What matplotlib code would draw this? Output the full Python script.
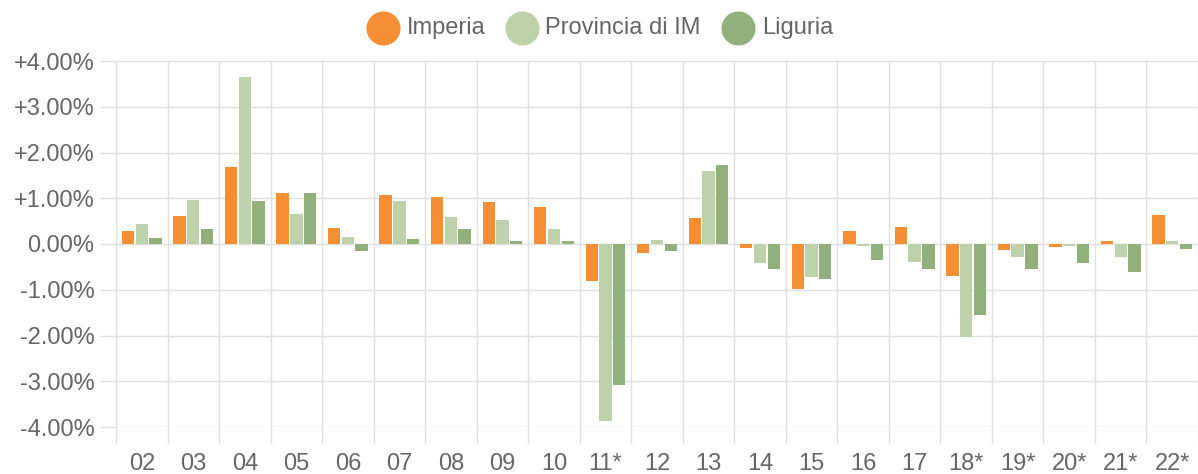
import matplotlib
matplotlib.use('Agg')
import matplotlib.pyplot as plt
import numpy as np
from matplotlib.lines import Line2D

plt.rcParams['font.family'] = ['Liberation Sans', 'DejaVu Sans']

# dati (variazione % annua)
anni = ['02', '03', '04', '05', '06', '07', '08', '09', '10', '11*', '12',
        '13', '14', '15', '16', '17', '18*', '19*', '20*', '21*', '22*']
imperia = [0.28, 0.61, 1.69, 1.12, 0.36, 1.07, 1.03, 0.92, 0.81, -0.80, -0.19,
           0.57, -0.09, -0.99, 0.28, 0.37, -0.71, -0.14, -0.07, 0.06, 0.63]
provincia = [0.43, 0.96, 3.65, 0.66, 0.15, 0.93, 0.59, 0.53, 0.32, -3.87, 0.09,
             1.59, -0.41, -0.73, -0.04, -0.39, -2.03, -0.28, -0.05, -0.28, 0.06]
liguria = [0.14, 0.32, 0.93, 1.11, -0.15, 0.11, 0.32, 0.06, 0.06, -3.08, -0.15,
           1.72, -0.55, -0.77, -0.36, -0.54, -1.55, -0.54, -0.42, -0.62, -0.10]
serie = ['Imperia', 'Provincia di IM', 'Liguria']
colori = ['#f68e34', '#bdd2aa', '#92b07c']

W, H = 1198, 474
fig = plt.figure(figsize=(W / 100, H / 100), dpi=100)
ax = fig.add_axes([116 / W, (H - 427) / H, (W - 116) / W, (427 - 61) / H])

x = np.arange(len(anni))
slot = 0.8 / 3
for i, (vals, col) in enumerate(zip([imperia, provincia, liguria], colori)):
    ax.bar(x + (i - 1) * slot, vals, width=slot * 0.9, color=col, zorder=3)

grid_col = '#e0e0e0'
txt_col = '#666666'

ax.set_ylim(-4, 4)
ax.set_xlim(-0.5, (W - 116) / 52.1 - 0.5)
ax.set_yticks(np.arange(-4, 5, 1))
ax.set_yticklabels([('+' if v > 0 else '') + '%.2f%%' % v for v in range(-4, 5)])
ax.set_xticks(x)
ax.set_xticklabels(anni)
ax.set_xticks(np.arange(-0.5, len(anni), 1), minor=True)

ax.grid(True, which='major', axis='y', color=grid_col, linewidth=1, zorder=0)
ax.grid(True, which='minor', axis='x', color=grid_col, linewidth=1, zorder=0)
ax.tick_params(axis='y', which='major', length=11.5, width=1, color=grid_col,
               labelcolor=txt_col, labelsize=17, pad=4)
ax.tick_params(axis='x', which='major', length=0, labelcolor=txt_col,
               labelsize=17, pad=19)
ax.tick_params(axis='x', which='minor', length=11.5, width=1, color=grid_col)

for s in ['top', 'right', 'bottom']:
    ax.spines[s].set_visible(False)
ax.spines['left'].set_color(grid_col)
ax.set_axisbelow(True)

# legenda
legenda = [(383, 407), (522, 545), (738, 762)]
for (cx, tx), nome, col in zip(legenda, serie, colori):
    fig.add_artist(Line2D([cx / W], [1 - 28 / H], marker='o', markersize=23.5,
                          color=col, linestyle='none', transform=fig.transFigure))
    fig.text(tx / W, 1 - 28 / H, nome, color=txt_col, fontsize=17,
             va='center', ha='left')

fig.savefig('out.png', dpi=100)
